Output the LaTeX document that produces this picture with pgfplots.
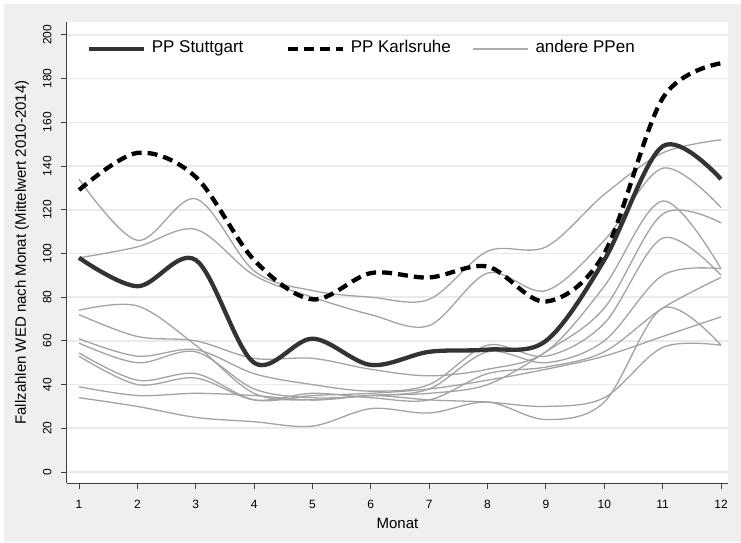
\documentclass[border=0pt]{standalone}
\usepackage{fontspec}
\setmainfont{Liberation Sans}
\usepackage{pgfplots}
\pgfplotsset{compat=1.18}

\definecolor{bgc}{HTML}{EFEFEF}
\definecolor{gridc}{HTML}{EAEAEA}
\definecolor{axc}{HTML}{404040}
\definecolor{otherc}{HTML}{A3A3A3}
\definecolor{stuttc}{HTML}{333333}

\pgfplotsset{
  stutt/.style={stuttc, line width=4.3bp, smooth, tension=0.55},
  karls/.style={black, line width=4.3bp, dash pattern=on 10bp off 6bp, smooth, tension=0.55},
  other/.style={otherc, line width=1.3bp, smooth, tension=0.55},
}

\begin{document}
\begin{tikzpicture}[font=\fontsize{12bp}{14bp}\selectfont]
% graph region
\fill[white] (-67bp,-60bp) rectangle (674bp,483bp);
\fill[bgc] (-63bp,-59bp) rectangle (674bp,479bp);
\begin{axis}[
  at={(0,0)}, anchor=south west,
  scale only axis, width=661bp, height=461bp,
  xmin=0.794, xmax=12.12, ymin=-5.03, ymax=205.9,
  axis background/.style={fill=white},
  axis x line*=bottom, axis y line*=left,
  axis line style={axc, line width=1bp, -},
  xtick={1,...,12}, ytick={0,20,...,200},
  tick align=outside, major tick length=6bp,
  tick style={axc, line width=1bp},
  ymajorgrids, grid style={gridc, line width=1.6bp},
  /pgf/number format/assume math mode=true,
  yticklabel style={font=\fontsize{12bp}{14bp}\selectfont, xshift=-6bp, rotate=90, anchor=south},
  xticklabel style={font=\fontsize{12bp}{14bp}\selectfont, yshift=-8bp},
  xlabel={Monat}, ylabel={Fallzahlen WED nach Monat (Mittelwert 2010-2014)},
  every axis x label/.style={at={(axis description cs:0.5,0)}, anchor=center,
    yshift=-40bp, font=\fontsize{15bp}{17bp}\selectfont},
  every axis y label/.style={at={(axis description cs:0,0.5)}, anchor=center,
    xshift=-45bp, rotate=90, font=\fontsize{15bp}{17bp}\selectfont},
  legend columns=3,
  legend style={at={(rel axis cs:0.0295,0.946)}, anchor=west, draw=none, fill=none,
    inner sep=0pt, outer sep=0pt,
    font=\fontsize{17bp}{19bp}\selectfont,
    nodes={inner sep=0pt, anchor=base west},
    /tikz/every odd column/.append style={column sep=6bp},
    /tikz/column 2/.style={column sep=42bp},
    /tikz/column 4/.style={column sep=21bp}},
  legend image code/.code={\draw[#1] (0bp,0.35em) -- (55bp,0.35em);},
  clip=false,
]
% other police headquarters
\addplot[other, forget plot] coordinates {(1,134) (2,106) (3,125) (4,92) (5,83) (6,80) (7,79) (8,101) (9,103) (10,127) (11,146) (12,152)};
\addplot[other, forget plot] coordinates {(1,98) (2,103) (3,111) (4,90) (5,80) (6,72) (7,67) (8,91) (9,83) (10,106) (11,139) (12,121)};
\addplot[other, forget plot] coordinates {(1,74) (2,76) (3,58) (4,36) (5,33) (6,35) (7,36) (8,40) (9,55) (10,75) (11,118) (12,114)};
\addplot[other, forget plot] coordinates {(1,72) (2,62) (3,60) (4,52) (5,52) (6,47) (7,44) (8,47) (9,55) (10,85) (11,124) (12,93)};
\addplot[other, forget plot] coordinates {(1,61) (2,53) (3,56) (4,45) (5,40) (6,37) (7,40) (8,58) (9,53) (10,68) (11,107) (12,90)};
\addplot[other, forget plot] coordinates {(1,59) (2,50) (3,55) (4,38) (5,34) (6,35) (7,38) (8,55) (9,50) (10,60) (11,90) (12,93)};
\addplot[other, forget plot] coordinates {(1,53) (2,40) (3,43) (4,33) (5,36) (6,34) (7,33) (8,45) (9,48) (10,55) (11,75) (12,89)};
\addplot[other, forget plot] coordinates {(1,54.5) (2,42) (3,45) (4,33) (5,35) (6,36) (7,38) (8,42) (9,47) (10,53) (11,62) (12,71)};
\addplot[other, forget plot] coordinates {(1,39) (2,35) (3,36) (4,35) (5,33) (6,35) (7,33) (8,32) (9,30) (10,34) (11,57) (12,58)};
\addplot[other, forget plot] coordinates {(1,34) (2,30) (3,25) (4,23) (5,21) (6,29) (7,27) (8,32) (9,24) (10,32) (11,75) (12,58)};
% PP Karlsruhe
\addplot[karls, forget plot] coordinates {(1,129) (2,146) (3,135) (4,97) (5,79) (6,91) (7,89) (8,94) (9,78) (10,100) (11,171) (12,187)};
% PP Stuttgart
\addplot[stutt, forget plot] coordinates {(1,98) (2,85) (3,97) (4,50) (5,61) (6,49) (7,55) (8,56) (9,60) (10,97) (11,149) (12,134)};

\addlegendimage{stuttc, line width=4.3bp}
\addlegendentry{PP Stuttgart}
\addlegendimage{black, line width=4.3bp, dash pattern=on 10bp off 6bp}
\addlegendentry{PP Karlsruhe}
\addlegendimage{otherc!90, line width=2.6bp}
\addlegendentry{andere PPen}
\end{axis}
\pgfresetboundingbox
\path (-67bp,-60bp) rectangle (674bp,483bp);
\end{tikzpicture}
\end{document}
